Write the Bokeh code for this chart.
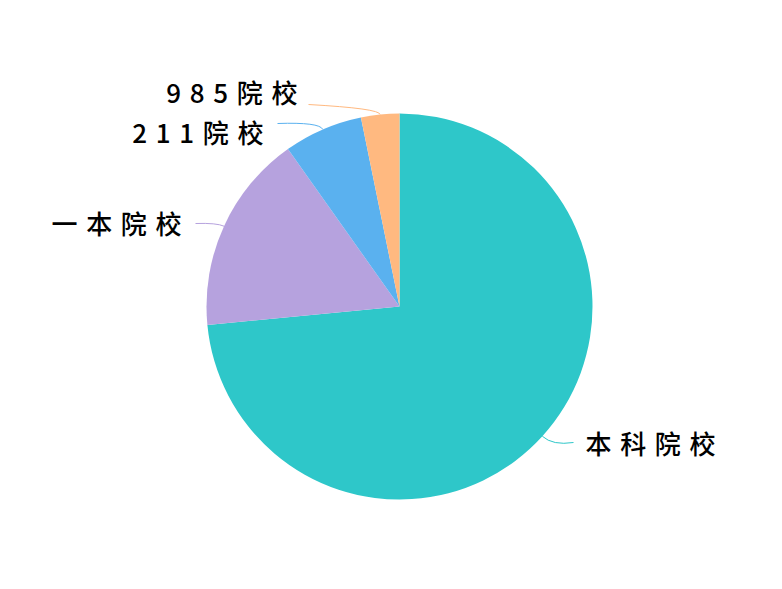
import math
from bokeh.plotting import figure
from bokeh.models import Range1d, ColumnDataSource
from bokeh.core.properties import value
from bokeh.embed import file_html
from bokeh.resources import INLINE

# ---- data ----
categories = ["本科院校", "一本院校", "211院校", "985院校"]
values = [73.4, 16.7, 6.6, 3.2]
colors = ["#2ec7c9", "#b6a2de", "#5ab1ef", "#ffb980"]

# ---- layout / style ----
W, H = 766, 573
OX, OY = 8, -8
CX, CY, R = 391 + OX, 275 + OY, 193
SP = "\u2004"  # letter spacing imitation
label_pos = [(577, 139, "left"), (173, 359, "right"), (255, 450, "right"), (289, 490, "right")]
line_end = [(565, 139), (187, 358), (269, 458), (300, 477)]
radial_len = [14, 8, 8, 6]

p = figure(width=W, height=H, output_backend="svg", toolbar_location=None,
           x_range=Range1d(0, W), y_range=Range1d(0, H), min_border=0)
p.axis.visible = False
p.grid.visible = False
p.outline_line_color = None
p.background_fill_color = "white"
p.border_fill_color = "white"

total = sum(values)
theta = 0.0
starts, ends, mids = [], [], []
for v in values:
    t0 = theta
    t1 = theta + v / total * 360.0
    starts.append(math.radians(90 - t1))
    ends.append(math.radians(90 - t0))
    mids.append(math.radians(90 - (t0 + t1) / 2))
    theta = t1

src = ColumnDataSource(dict(start=starts, end=ends, color=colors, cat=categories))
p.wedge(x=CX, y=CY, radius=R, start_angle="start", end_angle="end",
        fill_color="color", line_color=None, source=src)

for i, cat in enumerate(categories):
    a = mids[i]
    ex, ey = CX + R * math.cos(a), CY + R * math.sin(a)
    rl = R + radial_len[i]
    qx, qy = CX + rl * math.cos(a), CY + rl * math.sin(a)
    lx, ly = line_end[i]
    p.quadratic(x0=[ex], y0=[ey], x1=[lx + OX], y1=[ly + OY], cx=[qx], cy=[qy],
                line_color=colors[i], line_width=1)
    tx, ty, al = label_pos[i]
    p.text(x=[tx + OX], y=[ty + OY], text=[SP.join(cat)], text_align=al, text_baseline="middle",
           text_font=value("'Noto Sans CJK SC Medium', 'Noto Sans CJK SC'"), text_font_size="26px",
           text_color="#000000")

open("out.html", "w").write(file_html(p, INLINE))
